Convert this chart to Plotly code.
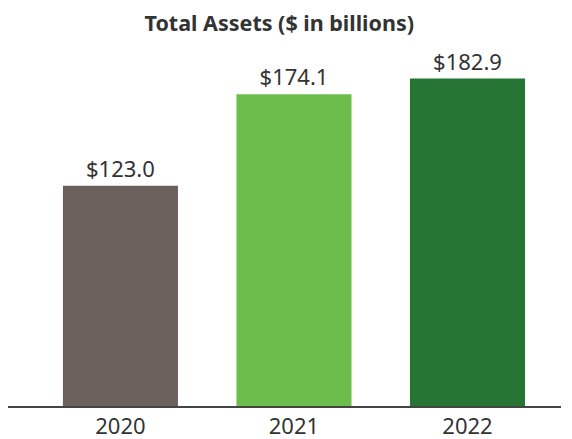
import plotly.graph_objects as go

years = ["2020", "2021", "2022"]
assets = [123.0, 174.1, 182.9]
labels = ["$123.0", "$174.1", "$182.9"]
colors = ["#6b605b", "#6dbd4b", "#267535"]

fig = go.Figure(go.Bar(
    x=years, y=assets, text=labels, textposition="outside",
    textfont=dict(size=22, color="#333333"),
    marker=dict(color=colors, line=dict(width=0)),
    width=0.663, cliponaxis=False,
))
fig.update_layout(
    width=564, height=431,
    margin=dict(l=0, r=11, t=40, b=33),
    paper_bgcolor="white", plot_bgcolor="white",
    font=dict(family="Noto Sans", color="#333333"),
    title=dict(text="<b>Total Assets ($ in billions)</b>", x=0.481, xanchor="center",
               y=0.964, yanchor="middle", font=dict(size=21.5, color="#333333")),
    showlegend=False,
    xaxis=dict(type="category", range=[-0.648, 2.539], showline=True, linecolor="#444444",
               linewidth=1.5, ticks="", tickfont=dict(size=22, color="#333333"), showgrid=False),
    yaxis=dict(range=[0, 200], visible=False, showgrid=False),
)
fig.write_html("out.html", config={"displayModeBar": False})
